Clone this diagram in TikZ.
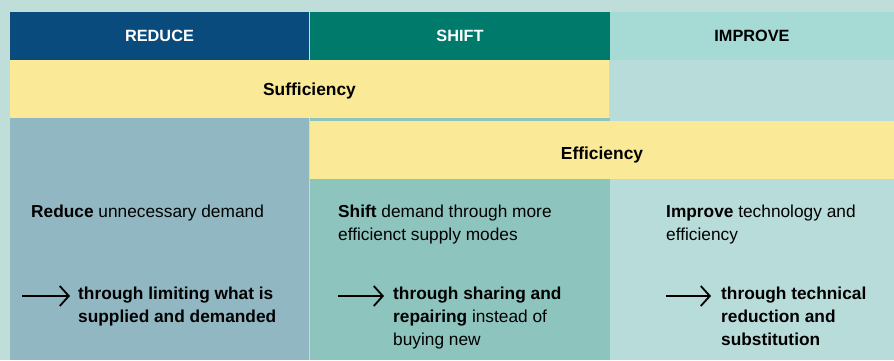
\documentclass[tikz,border=0pt]{standalone}
\usepackage{fontspec}
\setmainfont{Liberation Sans}
\usepackage{tikz}
\usetikzlibrary{arrows.meta,positioning}
\definecolor{pagebg}{HTML}{BFDEDA}
\definecolor{reduceblue}{HTML}{0A4B7D}
\definecolor{shiftgreen}{HTML}{007B6B}
\definecolor{improvemint}{HTML}{A6DBD5}
\definecolor{bandyellow}{HTML}{FAE996}
\definecolor{reducefill}{HTML}{91B8C2}
\definecolor{shiftfill}{HTML}{8DC4BE}
\definecolor{improvefill}{HTML}{B8DCD9}

\begin{document}
\begin{tikzpicture}[x=1pt, y=-1pt]
                \tikzstyle{block} = [rectangle, anchor=north west, inner sep=0pt, outer sep=0pt]
                \tikzstyle{headblock} = [block, minimum height=48pt, font=\bfseries\fontsize{16.3}{18}\selectfont]
                \tikzstyle{band} = [block, fill=bandyellow, minimum height=58pt, text depth=0pt, font=\bfseries\fontsize{17.4}{20}\selectfont]
                \tikzstyle{txt} = [anchor=north west, inner sep=0pt, align=left, font=\fontsize{17.3}{23}\selectfont]
                \tikzstyle{arrow} = [line width=1.8pt, -{Straight Barb[length=9pt, width=20pt]}]

                \fill [pagebg] (0,0) rectangle (894,360);
                \useasboundingbox (0,0) rectangle (894,360);

                % column bodies
                \node [block, fill=reducefill, minimum width=299pt, minimum height=242pt] (reducebody) at (10,118) {};
                \node [block, fill=shiftfill, minimum width=300pt, minimum height=242pt] (shiftbody) at (310,118) {};
                \node [block, fill=improvefill, minimum width=284pt, minimum height=300pt] (improvebody) at (610,60) {};

                % headers
                \node [headblock, fill=reduceblue, text=white, minimum width=299pt] (reduce) at (10,12) {REDUCE};
                \node [headblock, fill=shiftgreen, text=white, minimum width=300pt] (shift) at (310,12) {SHIFT};
                \node [headblock, fill=improvemint, minimum width=284pt] (improve) at (610,12) {IMPROVE};

                % bands
                \node [band, minimum width=599pt] (sufficiency) at (10,60) {Sufficiency};
                \node [band, minimum width=584pt, text height=19pt] (efficiency) at (310,121) {Efficiency};

                % texts
                \node [txt] (reducetxt) at (31,204.3) {\textbf{Reduce} unnecessary demand};
                \node [txt] (shifttxt) at (338,204.3) {\textbf{Shift} demand through more\\efficienct supply modes};
                \node [txt] (improvetxt) at (666,204.3) {\textbf{Improve} technology and\\efficiency};

                \node [txt] (reducehow) at (78,286.3) {\textbf{through limiting what is}\\\textbf{supplied and demanded}};
                \node [txt] (shifthow) at (393,286.3) {\textbf{through sharing and}\\\textbf{repairing} instead of\\buying new};
                \node [txt] (improvehow) at (721,286.3) {\textbf{through technical}\\\textbf{reduction and}\\\textbf{substitution}};

                % arrows
                \coordinate (reducea) at (22,296);
                \coordinate (reduceb) at (70,296);
                \coordinate (shifta) at (338,296);
                \coordinate (shiftb) at (384,296);
                \coordinate (improvea) at (666,296);
                \coordinate (improveb) at (711,296);
                \draw [arrow] (reducea) -- (reduceb);
                \draw [arrow] (shifta) -- (shiftb);
                \draw [arrow] (improvea) -- (improveb);
            \end{tikzpicture}
\end{document}
